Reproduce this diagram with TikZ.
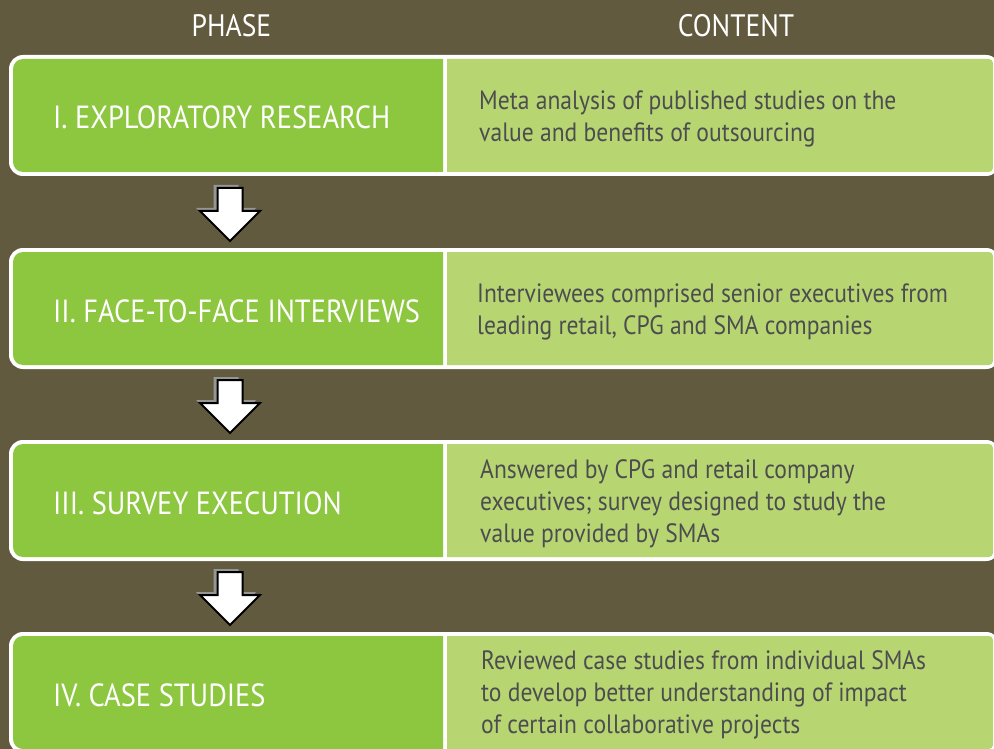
\documentclass[tikz,border=0pt]{standalone}
\usepackage{fontspec}
\setmainfont{PT Sans}[FakeStretch=0.89]
\definecolor{bgcol}{RGB}{98,90,62}
\definecolor{phasegreen}{RGB}{141,198,63}
\definecolor{contentgreen}{RGB}{183,214,114}
\definecolor{contenttext}{RGB}{77,77,79}
\definecolor{shadowgray}{RGB}{150,150,150}
\tikzset{
  headtxt/.style={text=white, font=\fontsize{31}{36}\selectfont, inner sep=0pt, anchor=base},
  phasetxt/.style={text=white, font=\fontsize{32}{36}\selectfont, inner sep=0pt, anchor=base west},
  contenttxt/.style={text=contenttext, font=\fontsize{26.5}{32}\selectfont, inner sep=0pt, anchor=west, align=left},
  pics/downarrow/.style={code={
    \fill[shadowgray, shift={(-4,-3)}] (-12.5,0) -- (12.5,0) -- (12.5,23) -- (30,23) -- (0,53) -- (-30,23) -- (-12.5,23) -- cycle;
    \draw[fill=white, draw=black, line width=2pt, line join=miter] (-12.5,0) -- (12.5,0) -- (12.5,23) -- (30,23) -- (0,53) -- (-30,23) -- (-12.5,23) -- cycle;
  }}
}
\newcommand{\rowbox}[1]{%
  \fill[white, rounded corners=14pt] (9,#1) rectangle (1000,#1+121);
  \begin{scope}
    \clip (0,#1) rectangle (443,#1+121);
    \fill[phasegreen, rounded corners=10pt] (13,#1+4) rectangle (480,#1+117);
  \end{scope}
  \begin{scope}
    \clip (447,#1) rectangle (994,#1+121);
    \fill[contentgreen, rounded corners=4pt] (420,#1+4) rectangle (993,#1+117);
  \end{scope}
}
\begin{document}
\begin{tikzpicture}[x=1pt,y=-1pt]
\useasboundingbox (0,0) rectangle (994,749);
\fill[bgcol] (0,0) rectangle (994,749);

\node[headtxt] (hphase) at (231.5,37) {PHASE};
\node[headtxt] (hcontent) at (736,37) {CONTENT};

\rowbox{55}
\rowbox{248}
\rowbox{440}
\rowbox{632}

\node[phasetxt] (ph1) at (53,129) {I. EXPLORATORY RESEARCH};
\node[phasetxt] (ph2) at (53,322) {II. FACE-TO-FACE INTERVIEWS};
\node[phasetxt] (ph3) at (53,514) {III. SURVEY EXECUTION};
\node[phasetxt] (ph4) at (53,706) {IV. CASE STUDIES};

\node[contenttxt] (c1) at (479,119) {Meta analysis of published studies on the\\value and benefits of outsourcing};
\node[contenttxt] (c2) at (477,312) {Interviewees comprised senior executives from\\leading retail, CPG and SMA companies};
\node[contenttxt] (c3) at (480,504) {Answered by CPG and retail company\\executives; survey designed to study the\\value provided by SMAs};
\node[contenttxt] (c4) at (481,695) {Reviewed case studies from individual SMAs\\to develop better understanding of impact\\of certain collaborative projects};

\pic (a1) at (230,188) {downarrow};
\pic (a2) at (230,380) {downarrow};
\pic (a3) at (230,572) {downarrow};
\end{tikzpicture}
\end{document}
